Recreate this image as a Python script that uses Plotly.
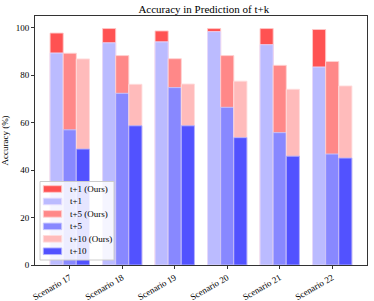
import plotly.graph_objects as go

scenarios = ["Scenario 17", "Scenario 18", "Scenario 19", "Scenario 20", "Scenario 21", "Scenario 22"]
t1_ours = [97.8, 99.7, 98.7, 99.7, 99.7, 99.3]
t1_base = [89.4, 93.7, 94.1, 98.4, 92.9, 83.5]
t5_ours = [89.3, 88.3, 87.0, 88.3, 84.2, 85.8]
t5_base = [57.0, 72.4, 74.8, 66.5, 55.8, 46.8]
t10_ours = [86.9, 76.2, 76.3, 77.5, 74.1, 75.5]
t10_base = [48.9, 58.7, 58.7, 53.7, 45.9, 45.1]

x = list(range(len(scenarios)))
w = 0.25
series = [
    ("t+1 (Ours)", t1_ours, "#FF5252", "rgba(255,200,200,0.9)", -1.5 * w),
    ("t+1", t1_base, "#BBBBFF", "rgba(230,220,255,0.9)", -1.5 * w),
    ("t+5 (Ours)", t5_ours, "#FF8888", "rgba(255,210,210,0.9)", -0.5 * w),
    ("t+5", t5_base, "#8888FF", "rgba(200,200,255,0.9)", -0.5 * w),
    ("t+10 (Ours)", t10_ours, "#FFBBBB", "rgba(255,220,220,0.9)", 0.5 * w),
    ("t+10", t10_base, "#5252FF", "rgba(180,180,255,0.9)", 0.5 * w),
]

W, H = 374, 301
ML, MR, MT, MB = 35, 7, 16, 36
PW, PH = W - ML - MR, H - MT - MB


def px(xp):
    return (xp - ML) / PW


def py(yp):
    return (H - MB - yp) / PH


fig = go.Figure()
for name, vals, col, edge, off in series:
    fig.add_trace(go.Bar(
        x=x, y=vals, name=name, width=w, offset=off, showlegend=False,
        marker=dict(color=col, line=dict(color=edge, width=1)),
    ))

font = "Liberation Serif"

# custom legend (matplotlib-like compact box)
shapes = [dict(type="rect", xref="paper", yref="paper",
               x0=px(40), x1=px(114), y0=py(260), y1=py(181.5),
               fillcolor="rgba(255,255,255,0.85)", line=dict(color="#cccccc", width=1),
               layer="above")]
annotations = []
for i, (name, vals, col, edge, off) in enumerate(series):
    yc = 189 + i * 12.45
    shapes.append(dict(type="rect", xref="paper", yref="paper",
                       x0=px(43.3), x1=px(61.7), y0=py(yc + 3.3), y1=py(yc - 3.3),
                       fillcolor=col, line=dict(color=edge, width=1), layer="above"))
    annotations.append(dict(xref="paper", yref="paper", x=px(67.5), y=py(yc),
                            xanchor="left", yanchor="middle", text=name, showarrow=False,
                            font=dict(size=9, family=font, color="black")))

fig.update_layout(
    width=W, height=H,
    barmode="overlay",
    margin=dict(l=ML, r=MR, t=MT, b=MB, autoexpand=False),
    paper_bgcolor="white", plot_bgcolor="white",
    font=dict(family=font, size=9, color="black"),
    title=dict(text="Accuracy in Prediction of t+k", x=0.545, xref="container", xanchor="center",
               y=1 - 9 / H, yanchor="middle", font=dict(size=11, family=font)),
    showlegend=False,
    shapes=shapes,
    annotations=annotations,
    xaxis=dict(range=[-0.6625, 5.6625], tickvals=x, ticktext=scenarios, tickangle=-30,
               showline=True, linecolor="#333333", linewidth=1, mirror=True,
               ticks="outside", ticklen=3, tickcolor="#333333", showgrid=False,
               zeroline=False, tickfont=dict(size=9), automargin=False),
    yaxis=dict(range=[0, 105], tickvals=[0, 20, 40, 60, 80, 100],
               showline=True, linecolor="#333333", linewidth=1, mirror=True,
               ticks="outside", ticklen=3, tickcolor="#333333", showgrid=False,
               zeroline=False, tickfont=dict(size=9), automargin=False,
               title=dict(text="Accuracy (%)", font=dict(size=9), standoff=6)),
)

fig.write_html("out.html", config={"displayModeBar": False},
               post_script="document.body.style.margin='0';document.body.style.overflow='hidden';")
